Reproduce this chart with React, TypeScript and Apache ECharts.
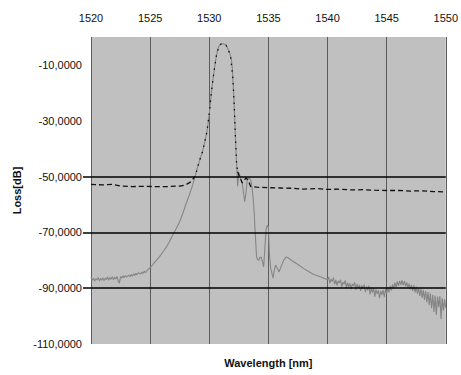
import React, { useEffect, useRef } from "react";
import * as echarts from "echarts";

const yLabelValues = [-110, -90, -70, -50, -30, -10];
const refLines = [-50, -70, -90];

// Filter transmission trace (gray)
const grayTrace: [number, number][] = [
  [1520.0, -86.0], [1520.1, -87.2], [1520.2, -86.4], [1520.3, -87.5], [1520.4, -86.6],
  [1520.5, -87.0], [1520.6, -86.2], [1520.7, -87.4], [1520.8, -86.5], [1520.9, -87.1],
  [1521.0, -86.3], [1521.1, -87.3], [1521.2, -86.4], [1521.3, -86.9], [1521.4, -86.0],
  [1521.5, -87.2], [1521.6, -86.2], [1521.7, -86.8], [1521.8, -85.9], [1521.9, -87.0],
  [1522.0, -86.1], [1522.1, -86.7], [1522.2, -85.8], [1522.3, -87.4], [1522.4, -88.2],
  [1522.5, -85.8], [1522.6, -86.4], [1522.7, -85.6], [1522.8, -86.2], [1522.9, -85.5],
  [1523.0, -86.0], [1523.2, -85.3], [1523.3, -85.9], [1523.4, -85.1], [1523.5, -85.7],
  [1523.6, -84.9], [1523.7, -85.4], [1523.8, -84.7], [1523.9, -85.2], [1524.0, -84.5],
  [1524.2, -84.9], [1524.3, -84.2], [1524.4, -84.7], [1524.5, -83.9], [1524.6, -84.4],
  [1524.8, -83.4], [1525.0, -82.6], [1525.2, -81.7], [1525.4, -80.6], [1525.6, -79.7],
  [1525.8, -78.7], [1526.0, -77.5], [1526.2, -76.3], [1526.4, -75.1], [1526.6, -73.6],
  [1526.9, -71.0], [1527.2, -68.7], [1527.5, -66.2], [1527.8, -62.8], [1528.0, -60.2],
  [1528.3, -56.8], [1528.6, -53.0], [1528.8, -50.0], [1529.0, -46.8], [1529.2, -44.0],
  [1529.4, -41.5], [1529.6, -38.0], [1529.8, -34.0], [1529.9, -31.0], [1530.0, -27.5],
  [1530.1, -23.5], [1530.2, -19.0], [1530.3, -15.5], [1530.4, -12.5], [1530.5, -9.5],
  [1530.6, -6.8], [1530.7, -4.8], [1530.8, -3.5], [1530.9, -2.8], [1531.0, -2.5],
  [1531.2, -2.4], [1531.4, -2.8], [1531.5, -3.5], [1531.6, -4.5], [1531.7, -5.5],
  [1531.8, -6.8], [1531.9, -9.0], [1531.96, -11.5], [1532.0, -15.0], [1532.05, -19.0],
  [1532.1, -23.5], [1532.15, -29.0], [1532.2, -34.5], [1532.25, -39.5], [1532.3, -44.5],
  [1532.35, -48.5], [1532.4, -53.5], [1532.5, -48.5], [1532.65, -50.5], [1532.8, -52.5],
  [1532.9, -56.0], [1533.0, -59.0], [1533.1, -56.0], [1533.2, -51.5], [1533.35, -50.5],
  [1533.5, -51.0], [1533.6, -53.5], [1533.7, -57.0], [1533.8, -63.0], [1533.87, -69.0],
  [1533.95, -75.0], [1534.0, -78.8], [1534.1, -79.8], [1534.2, -80.0], [1534.3, -78.8],
  [1534.4, -79.0], [1534.5, -80.5], [1534.6, -82.4], [1534.7, -76.0], [1534.8, -69.0],
  [1534.9, -67.5], [1535.0, -68.0], [1535.1, -78.8], [1535.2, -83.0], [1535.4, -86.4],
  [1535.5, -83.5], [1535.6, -81.7], [1535.8, -83.2], [1535.9, -84.2], [1536.1, -82.0],
  [1536.3, -80.0], [1536.5, -78.8], [1536.7, -79.2], [1537.0, -80.2], [1537.3, -81.0],
  [1537.6, -81.8], [1538.0, -83.0], [1538.4, -84.0], [1538.8, -85.0], [1539.2, -85.6],
  [1539.6, -86.3], [1540.0, -87.0], [1540.1, -86.0], [1540.2, -88.2], [1540.3, -86.8],
  [1540.4, -87.6], [1540.5, -86.2], [1540.6, -88.6], [1540.7, -87.0], [1540.8, -89.0],
  [1540.9, -87.4], [1541.0, -88.1], [1541.1, -87.0], [1541.2, -89.5], [1541.3, -87.8],
  [1541.4, -88.6], [1541.5, -87.2], [1541.6, -90.0], [1541.7, -88.0], [1541.8, -89.6],
  [1541.9, -88.3], [1542.0, -90.3], [1542.1, -88.5], [1542.2, -89.2], [1542.3, -87.9],
  [1542.4, -90.6], [1542.5, -88.6], [1542.6, -89.9], [1542.7, -88.8], [1542.8, -91.0],
  [1542.9, -89.0], [1543.0, -90.2], [1543.1, -88.7], [1543.2, -91.4], [1543.3, -89.4],
  [1543.4, -90.8], [1543.5, -89.1], [1543.6, -92.2], [1543.7, -89.8], [1543.8, -91.6],
  [1543.9, -90.0], [1544.0, -93.0], [1544.1, -90.5], [1544.2, -92.0], [1544.3, -90.8],
  [1544.4, -93.6], [1544.5, -91.0], [1544.6, -92.4], [1544.7, -90.6], [1544.8, -93.2],
  [1544.9, -90.4], [1545.0, -92.0], [1545.1, -89.8], [1545.2, -91.5], [1545.3, -89.2],
  [1545.4, -90.8], [1545.5, -88.6], [1545.6, -90.2], [1545.7, -88.0], [1545.8, -89.6],
  [1545.9, -87.6], [1546.0, -89.2], [1546.1, -87.4], [1546.2, -88.8], [1546.3, -87.2],
  [1546.4, -88.9], [1546.5, -87.5], [1546.6, -89.3], [1546.7, -87.9], [1546.8, -89.8],
  [1546.9, -88.4], [1547.0, -90.4], [1547.1, -88.8], [1547.2, -91.0], [1547.3, -89.0],
  [1547.4, -91.5], [1547.5, -89.4], [1547.6, -92.0], [1547.7, -89.8], [1547.8, -92.8],
  [1547.9, -90.2], [1548.0, -93.5], [1548.1, -90.6], [1548.2, -94.2], [1548.3, -91.0],
  [1548.4, -95.0], [1548.5, -91.4], [1548.6, -96.0], [1548.7, -91.8], [1548.8, -97.2],
  [1548.9, -92.4], [1549.0, -98.5], [1549.1, -92.6], [1549.2, -99.6], [1549.3, -93.0],
  [1549.4, -96.8], [1549.5, -92.8], [1549.6, -101.0], [1549.7, -93.6], [1549.8, -98.0],
  [1549.9, -94.0], [1550.0, -97.0],
];

// Second trace (black), split by how it is drawn: dashed flat parts, dotted peak
const blackLeft: [number, number][] = [
  [1520.0, -52.8], [1521.0, -53.0], [1521.8, -52.8], [1522.5, -53.4], [1523.5, -53.6],
  [1524.5, -53.5], [1525.5, -53.6], [1526.5, -53.6], [1527.5, -53.4], [1528.0, -53.0],
  [1528.4, -52.0], [1528.7, -50.5],
];
const blackPeak: [number, number][] = [
  [1528.7, -50.5], [1528.9, -48.5], [1529.2, -44.0], [1529.4, -41.5],
  [1529.6, -38.0], [1529.8, -34.0], [1530.0, -27.5], [1530.2, -19.0], [1530.4, -12.5],
  [1530.6, -6.8], [1530.8, -3.5], [1531.0, -2.5], [1531.2, -2.4], [1531.4, -2.8],
  [1531.6, -4.5], [1531.8, -6.8], [1532.0, -15.0], [1532.1, -23.5], [1532.2, -34.5],
  [1532.3, -44.5], [1532.4, -48.3],
];
const blackRight: [number, number][] = [
  [1532.4, -48.3], [1532.55, -50.0], [1532.8, -52.3], [1533.1, -50.5],
  [1533.3, -51.3], [1533.5, -53.6], [1534.0, -53.8], [1535.0, -54.0], [1536.0, -54.1],
  [1537.0, -54.2], [1538.0, -54.5], [1539.0, -54.3], [1540.0, -54.6], [1541.0, -54.5],
  [1542.0, -54.8], [1543.0, -54.7], [1544.0, -54.9], [1545.0, -55.0], [1546.0, -55.0],
  [1547.0, -55.2], [1548.0, -55.1], [1549.0, -55.4], [1550.0, -55.5],
];

const FONT = "Liberation Sans, Arial, sans-serif";

export default function App() {
  const ref = useRef<HTMLDivElement>(null);
  useEffect(() => {
    if (!ref.current) return;
    const chart = echarts.init(ref.current, undefined, { renderer: "svg" });
    const blackLine = (data: [number, number][], dash: number[], width: number) => ({
      type: "line",
      data,
      showSymbol: false,
      lineStyle: { color: "#111", width, type: dash },
      z: 3,
    });
    chart.setOption({
      animation: false,
      backgroundColor: "#ffffff",
      grid: { left: 91, right: 13, top: 37, bottom: 31, show: true, backgroundColor: "#c0c0c0", borderWidth: 0 },
      xAxis: [
        {
          type: "value",
          position: "top",
          min: 1520,
          max: 1550,
          interval: 5,
          axisLine: { show: false },
          axisTick: { show: false },
          axisLabel: { color: "#111", fontSize: 11, fontFamily: FONT, margin: 14, formatter: (v: number) => String(v) },
          splitLine: { show: true, lineStyle: { color: "#5c5c5c", width: 1 } },
        },
        {
          type: "value",
          position: "bottom",
          min: 1520,
          max: 1550,
          axisLine: { show: false },
          axisTick: { show: false },
          axisLabel: { show: false },
          splitLine: { show: false },
          name: "Wavelength [nm]",
          nameLocation: "middle",
          nameGap: 13,
          nameTextStyle: { color: "#111", fontSize: 11, fontWeight: "bold", fontFamily: FONT },
        },
      ],
      yAxis: {
        type: "value",
        min: -110,
        max: 0,
        interval: 20,
        name: "Loss[dB]",
        nameLocation: "middle",
        nameGap: 63,
        nameTextStyle: { color: "#111", fontSize: 11, fontWeight: "bold", fontFamily: FONT },
        axisLine: { show: false },
        axisTick: { show: true, length: 8, customValues: refLines, lineStyle: { color: "#000", width: 1.5 } },
        axisLabel: {
          color: "#111",
          fontSize: 11,
          fontFamily: FONT,
          margin: 9,
          customValues: yLabelValues,
          formatter: (v: number) => v.toFixed(4).replace(".", ","),
        },
        splitLine: { show: false },
      },
      series: [
        {
          type: "line",
          data: grayTrace,
          showSymbol: false,
          lineStyle: { color: "#858585", width: 1.1 },
          z: 2,
          markLine: {
            silent: true,
            symbol: "none",
            label: { show: false },
            lineStyle: { color: "#000", width: 1.5, type: "solid" },
            data: refLines.map((v) => ({ yAxis: v })),
          },
        },
        blackLine(blackLeft, [5, 3], 1.3),
        blackLine(blackPeak, [1.5, 5], 1.3),
        blackLine(blackRight, [5, 3], 1.3),
      ],
    });
    return () => chart.dispose();
  }, []);
  return <div ref={ref} style={{ position: "absolute", left: 0, top: 0, width: 461, height: 375 }} />;
}
